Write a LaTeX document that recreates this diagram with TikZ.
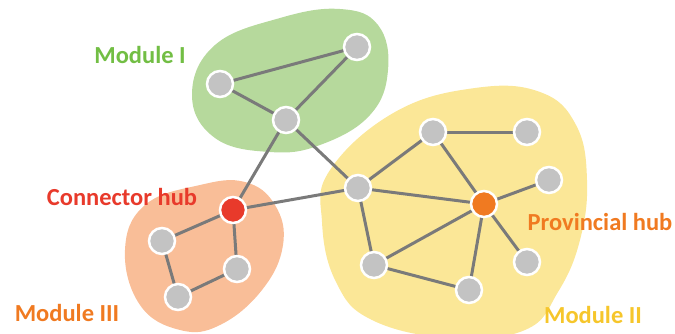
\documentclass[tikz,border=0pt]{standalone}
\usepackage{fontspec}
\setmainfont{Carlito}
\definecolor{greenblob}{HTML}{B6D99C}
\definecolor{greentext}{HTML}{72BE44}
\definecolor{orangeblob}{HTML}{F9BE98}
\definecolor{redhub}{HTML}{E83A2B}
\definecolor{orangehub}{HTML}{F07A21}
\definecolor{yellowblob}{HTML}{FBE797}
\definecolor{yellowtext}{HTML}{F6C62B}
\definecolor{nodegray}{HTML}{C3C3C3}
\definecolor{edgegray}{HTML}{7A7A7A}
\pgfdeclarelayer{blobs}
\pgfdeclarelayer{edges}
\pgfsetlayers{blobs,edges,main}
\tikzset{
  vertex/.style={circle,fill=nodegray,draw=white,line width=2.5pt,minimum size=26pt,inner sep=0pt},
  hubred/.style={vertex,fill=redhub},
  hubor/.style={vertex,fill=orangehub},
  link/.style={edgegray,line width=3pt},
  lbl/.style={font=\fontsize{24.5}{26}\selectfont\bfseries}
}
\begin{document}
\begin{tikzpicture}[x=1pt,y=-1pt]
\useasboundingbox (0,0) rectangle (675,333);
% modules
\begin{pgfonlayer}{blobs}
\fill[yellowblob] plot[smooth cycle,tension=0.7] coordinates {(330,170) (395,112) (475,88) (540,92) (576,125) (587,180) (580,240) (558,292) (525,330) (450,338) (372,320) (336,282) (322,222)};
\fill[greenblob] plot[smooth cycle,tension=0.7] coordinates {(192,95) (215,45) (280,18) (340,9) (378,25) (388,70) (370,115) (320,145) (270,152) (215,138)};
\fill[orangeblob] plot[smooth cycle,tension=0.7] coordinates {(125,250) (145,205) (200,185) (245,182) (275,205) (283,245) (262,290) (220,325) (180,330) (140,305)};
\end{pgfonlayer}
% nodes
\node[vertex] (a1) at (220,84) {};
\node[vertex] (a2) at (357,47) {};
\node[vertex] (a3) at (286,120) {};
\node[hubred] (c) at (233,210) {};
\node[vertex] (b1) at (162,241) {};
\node[vertex] (b2) at (237,269) {};
\node[vertex] (b3) at (178,297) {};
\node[vertex] (d1) at (358,188) {};
\node[vertex] (d2) at (433,132) {};
\node[vertex] (d3) at (527,132) {};
\node[vertex] (d4) at (549,180) {};
\node[hubor] (p) at (484,204) {};
\node[vertex] (d5) at (527,262) {};
\node[vertex] (d6) at (469,290) {};
\node[vertex] (d7) at (374,265) {};
% edges
\begin{pgfonlayer}{edges}
\foreach \u/\v in {a1/a2,a1/a3,a2/a3,a3/c,a3/d1,c/d1,c/b1,c/b2,b1/b3,b3/b2,d1/d2,d1/p,d1/d7,d2/d3,d2/p,p/d4,p/d5,p/d6,p/d7,d7/d6}
  \draw[link] (\u.center) -- (\v.center);
\end{pgfonlayer}
% labels
\node[lbl,text=greentext] (mod1) at (140,55) {Module I};
\node[lbl,text=redhub] (conn) at (122,197) {Connector hub};
\node[lbl,text=orangehub] (mod3) at (67,313) {Module III};
\node[lbl,text=orangehub] (prov) at (600,222) {Provincial hub};
\node[lbl,text=yellowtext] (mod2) at (593,315) {Module II};
\end{tikzpicture}
\end{document}
